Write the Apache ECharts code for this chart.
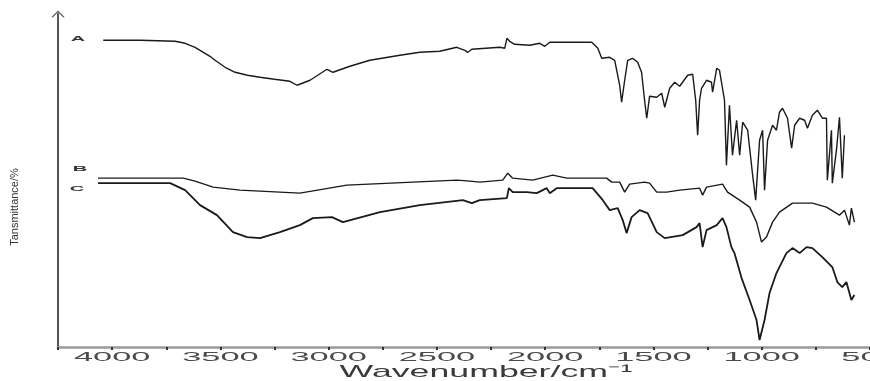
<!DOCTYPE html>
<html>
<head>
<meta charset="utf-8">
<script src="https://cdn.jsdelivr.net/npm/echarts@6/dist/echarts.min.js"></script>
<style>
html,body{margin:0;padding:0;background:#fff;}
#chart{width:870px;height:381px;}
</style>
</head>
<body>
<div id="chart"></div>
<script>
// Wavenumber (cm^-1) / transmittance (%, arbitrary offset) pairs
const seriesA = [
  [4041,92.1],[3871,92.1],[3709,91.8],[3663,91.2],[3617,90.0],[3594,89.1],[3548,87.3],[3525,86.1],
  [3478,84.0],[3432,82.5],[3375,81.6],[3317,81.0],[3250,80.4],
  [3179,79.8],[3146,78.6],[3086,80.1],[3008,83.4],[2980,82.5],[2902,84.3],[2810,86.1],[2671,87.6],
  [2579,88.5],[2487,88.8],[2408,90.0],[2371,89.1],[2357,88.5],[2339,89.4],[2210,90.0],[2187,89.7],
  [2177,92.7],[2164,91.8],[2141,90.9],[2071,90.6],[2025,91.2],[2002,90.3],[1979,91.5],[1933,91.5],
  [1785,91.5],[1757,89.7],[1739,86.7],[1702,87.0],[1679,86.1],[1656,78.6],[1647,73.5],[1633,80.1],
  [1619,86.1],[1596,86.7],[1573,85.5],[1555,82.5],[1541,74.1],[1531,68.7],[1518,75.3],[1485,75.0],
  [1462,76.2],[1448,72.0],[1425,77.7],[1402,79.5],[1379,78.3],[1342,81.6],[1319,81.9],[1305,74.1],
  [1296,63.6],[1287,74.1],[1278,77.7],[1255,80.1],[1232,79.5],[1227,76.5],[1208,83.7],[1195,83.1],
  [1172,74.1],[1163,54.6],[1149,72.6],[1135,57.6],[1116,68.1],[1102,57.6],[1088,67.5],[1065,65.1],
  [1042,51.6],[1028,44.1],[1010,62.1],[996,65.1],[987,47.1],[973,62.1],[950,66.6],[932,65.1],
  [918,70.5],[904,71.7],[881,68.7],[862,59.7],[848,66.6],[825,68.7],[802,68.1],[789,65.7],
  [766,69.6],[743,71.1],[720,68.7],[701,68.7],[697,50.1],[678,65.1],[674,49.2],[655,59.1],
  [641,69.0],[628,50.7],[618,63.6]
];
const seriesB = [
  [4065,50.7],[3672,50.7],[3617,49.8],[3534,48.0],[3409,47.1],[3225,46.5],[3133,46.2],[2916,48.6],
  [2611,49.5],[2408,50.1],[2348,49.8],[2302,49.5],[2196,50.1],[2173,52.2],[2150,50.7],[2058,50.1],
  [1965,51.6],[1901,50.7],[1716,50.7],[1693,49.5],[1656,49.5],[1633,46.5],[1610,48.9],[1541,49.5],
  [1518,49.2],[1485,46.5],[1439,46.5],[1379,47.1],[1287,47.7],[1273,45.6],[1255,48.0],[1181,48.9],
  [1158,46.5],[1102,44.1],[1056,42.0],[1024,37.5],[1001,31.5],[978,33.0],[950,37.5],[918,40.5],
  [858,43.2],[766,43.2],[701,42.0],[641,39.6],[618,41.1],[595,36.6],[586,41.7],[572,37.5]
];
const seriesC = [
  [4065,49.2],[3732,49.2],[3663,47.1],[3594,42.6],[3516,39.6],[3442,34.5],[3377,33.0],[3317,32.7],
  [3225,34.5],[3133,36.6],[3073,38.7],[2985,39.0],[2934,37.5],[2763,40.5],[2579,42.6],[2380,44.1],
  [2339,43.2],[2302,44.1],[2177,44.7],[2168,47.7],[2150,46.5],[2085,46.5],[2039,46.2],[1993,47.7],
  [1979,46.2],[1947,47.7],[1781,47.7],[1734,44.1],[1702,41.1],[1665,41.7],[1642,38.1],[1624,34.2],
  [1601,39.0],[1564,41.1],[1527,40.2],[1485,34.5],[1448,32.7],[1365,33.6],[1301,36.0],[1287,37.2],
  [1273,30.0],[1255,35.1],[1208,36.6],[1181,38.7],[1163,36.0],[1140,30.0],[1126,28.2],[1093,20.7],
  [1056,14.1],[1024,8.1],[1010,2.1],[987,8.1],[964,16.2],[932,22.2],[886,28.2],[858,29.7],
  [825,28.2],[793,30.0],[766,29.7],[720,27.0],[674,24.0],[651,19.5],[628,18.0],[609,19.5],
  [586,14.1],[572,15.6]
];
const tickValues = [4000, 3500, 3000, 2500, 2000, 1500, 1000, 500];
const tickLabels = ['4000', '3500', '3000', '2500', '2000', '1500', '1000', '500'];
const seriesNames = ['A', 'B', 'C'];
const xTitle = 'Wavenumber/cm\u207B\u00B9';
const yTitle = 'Tansmittance/%';

const chart = echarts.init(document.getElementById('chart'), null, {renderer: 'canvas'});
const lineColor = '#1a1a1a';
const option = {
  animation: false,
  backgroundColor: '#ffffff',
  grid: {left: 58, right: 0, top: 14, bottom: 34, containLabel: false},
  xAxis: {
    type: 'value', inverse: true, min: 500, max: 4250, interval: 250,
    axisLine: {show: true, lineStyle: {color: '#9a9a9a', width: 2.5}},
    axisTick: {show: true, length: 3, lineStyle: {color: '#333', width: 2}},
    axisLabel: {show: false},
    splitLine: {show: false}
  },
  yAxis: {
    type: 'value', min: 0, max: 100,
    axisLine: {show: true, onZero: false, lineStyle: {color: '#555', width: 2},
      symbol: ['none', 'path://M0,10 L10,0 L20,10 L18,10.5 L10,2.5 L2,10.5 Z'], symbolSize: [18, 7]},
    axisTick: {show: false},
    axisLabel: {show: false},
    splitLine: {show: false}
  },
  series: [seriesA, seriesB, seriesC].map((d, i) => ({
    name: seriesNames[i], type: 'line', data: d, showSymbol: false, symbol: 'none',
    lineStyle: {color: lineColor, width: i === 2 ? 1.8 : 1.4}
  }))
};
chart.setOption(option);

const graphics = [];
const axisY = chart.convertToPixel({yAxisIndex: 0}, 0);
tickValues.forEach((v, i) => {
  const px = chart.convertToPixel({xAxisIndex: 0}, v);
  graphics.push({
    type: 'text', x: px, y: axisY + 11, scaleX: 2.75, scaleY: 1, silent: true,
    style: {text: tickLabels[i], font: '12.5px "Liberation Sans", Arial, sans-serif', fill: '#4a4a4a',
      textAlign: 'center', textVerticalAlign: 'middle'}
  });
});
graphics.push({
  type: 'text', x: 486, y: 372, scaleX: 2.1, silent: true,
  style: {text: xTitle, font: '17px "Liberation Sans", Arial, sans-serif', fill: '#3a3a3a',
    textAlign: 'center', textVerticalAlign: 'middle'}
});
graphics.push({
  type: 'text', x: 15, y: 207, rotation: Math.PI / 2, silent: true,
  style: {text: yTitle, font: '11px "Liberation Sans", Arial, sans-serif', fill: '#333',
    textAlign: 'center', textVerticalAlign: 'middle'}
});
// curve labels
const labelPos = [[78, 39], [80, 169], [77, 189]];
seriesNames.forEach((n, i) => {
  graphics.push({
    type: 'text', x: labelPos[i][0], y: labelPos[i][1], scaleX: 2.0, scaleY: 0.7, silent: true,
    style: {text: n, font: 'bold 10px "Liberation Sans", Arial, sans-serif', fill: '#333',
      textAlign: 'center', textVerticalAlign: 'middle'}
  });
});
chart.setOption({graphic: graphics});
</script>
</body>
</html>
